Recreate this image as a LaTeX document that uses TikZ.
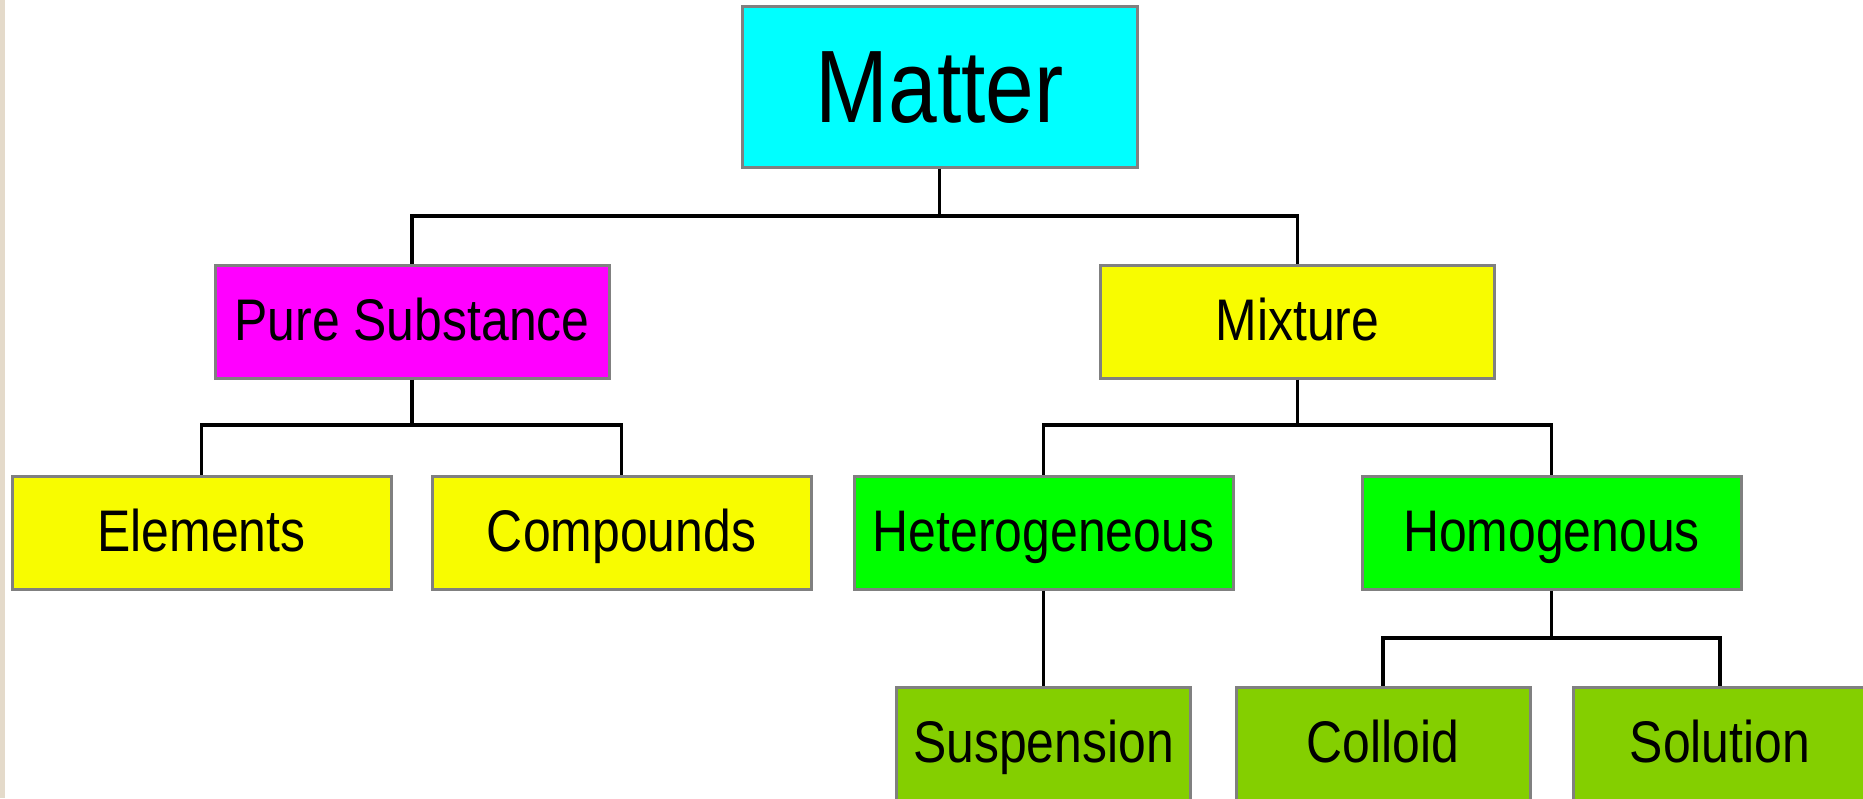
\documentclass[tikz,border=0pt]{standalone}
\usepackage{fontspec}
\setmainfont{Liberation Sans}[FakeStretch=0.85]
\definecolor{bordergray}{HTML}{808080}
\definecolor{cyanbox}{HTML}{00FFFF}
\definecolor{magbox}{HTML}{FF00FF}
\definecolor{yelbox}{HTML}{F8FC00}
\definecolor{grnbox}{HTML}{00FF00}
\definecolor{olvbox}{HTML}{84CF00}
\definecolor{beige}{HTML}{E4DACA}
\begin{document}
\begin{tikzpicture}[x=1pt,y=-1pt,
  box/.style={draw=bordergray, line width=3pt, inner sep=0pt, minimum width=379pt, minimum height=113pt, font=\fontsize{58.7}{62}\selectfont, text=black, text height=41pt, text depth=4pt},
  wide/.style={minimum width=394pt},
  narrow/.style={minimum width=294pt},
  link/.style={line width=3.5pt, black}]
\useasboundingbox (0,0) rectangle (1863,798);
\clip (0,0) rectangle (1863,798);
\fill[white] (0,0) rectangle (1863,798);
\fill[beige] (0,0) rectangle (5,798);

\node[box, fill=cyanbox, minimum width=395pt, minimum height=161pt, font=\fontsize{103}{106}\selectfont, text height=74pt, text depth=3pt] (matter) at (939.5,86.5) {Matter};
\node[box, wide, fill=magbox] (pure) at (412,321.5) {Pure Substance};
\node[box, wide, fill=yelbox] (mix) at (1297.5,321.5) {Mixture};
\node[box, fill=yelbox] (elem) at (201.5,532.5) {Elements};
\node[box, fill=yelbox] (comp) at (621.5,532.5) {Compounds};
\node[box, fill=grnbox] (het) at (1043.5,532.5) {Heterogeneous};
\node[box, fill=grnbox] (hom) at (1551.5,532.5) {Homogenous};
\node[box, narrow, fill=olvbox] (susp) at (1043.5,743.5) {Suspension};
\node[box, narrow, fill=olvbox] (coll) at (1383,743.5) {Colloid};
\node[box, narrow, fill=olvbox] (sol) at (1720,743.5) {Solution};

\coordinate (b1) at (939.5,216);
\coordinate (b2) at (412,425);
\coordinate (b3) at (1297.5,425);
\coordinate (b4) at (1551.5,638);

\draw[link] (matter.south) -- (b1);
\draw[link] (pure.north) |- (b1) -| (mix.north);
\draw[link] (pure.south) -- (b2);
\draw[link] (elem.north) |- (b2) -| (comp.north);
\draw[link] (mix.south) -- (b3);
\draw[link] (het.north) |- (b3) -| (hom.north);
\draw[link] (het.south) -- (susp.north);
\draw[link] (hom.south) -- (b4);
\draw[link] (coll.north) |- (b4) -| (sol.north);
\end{tikzpicture}
\end{document}
